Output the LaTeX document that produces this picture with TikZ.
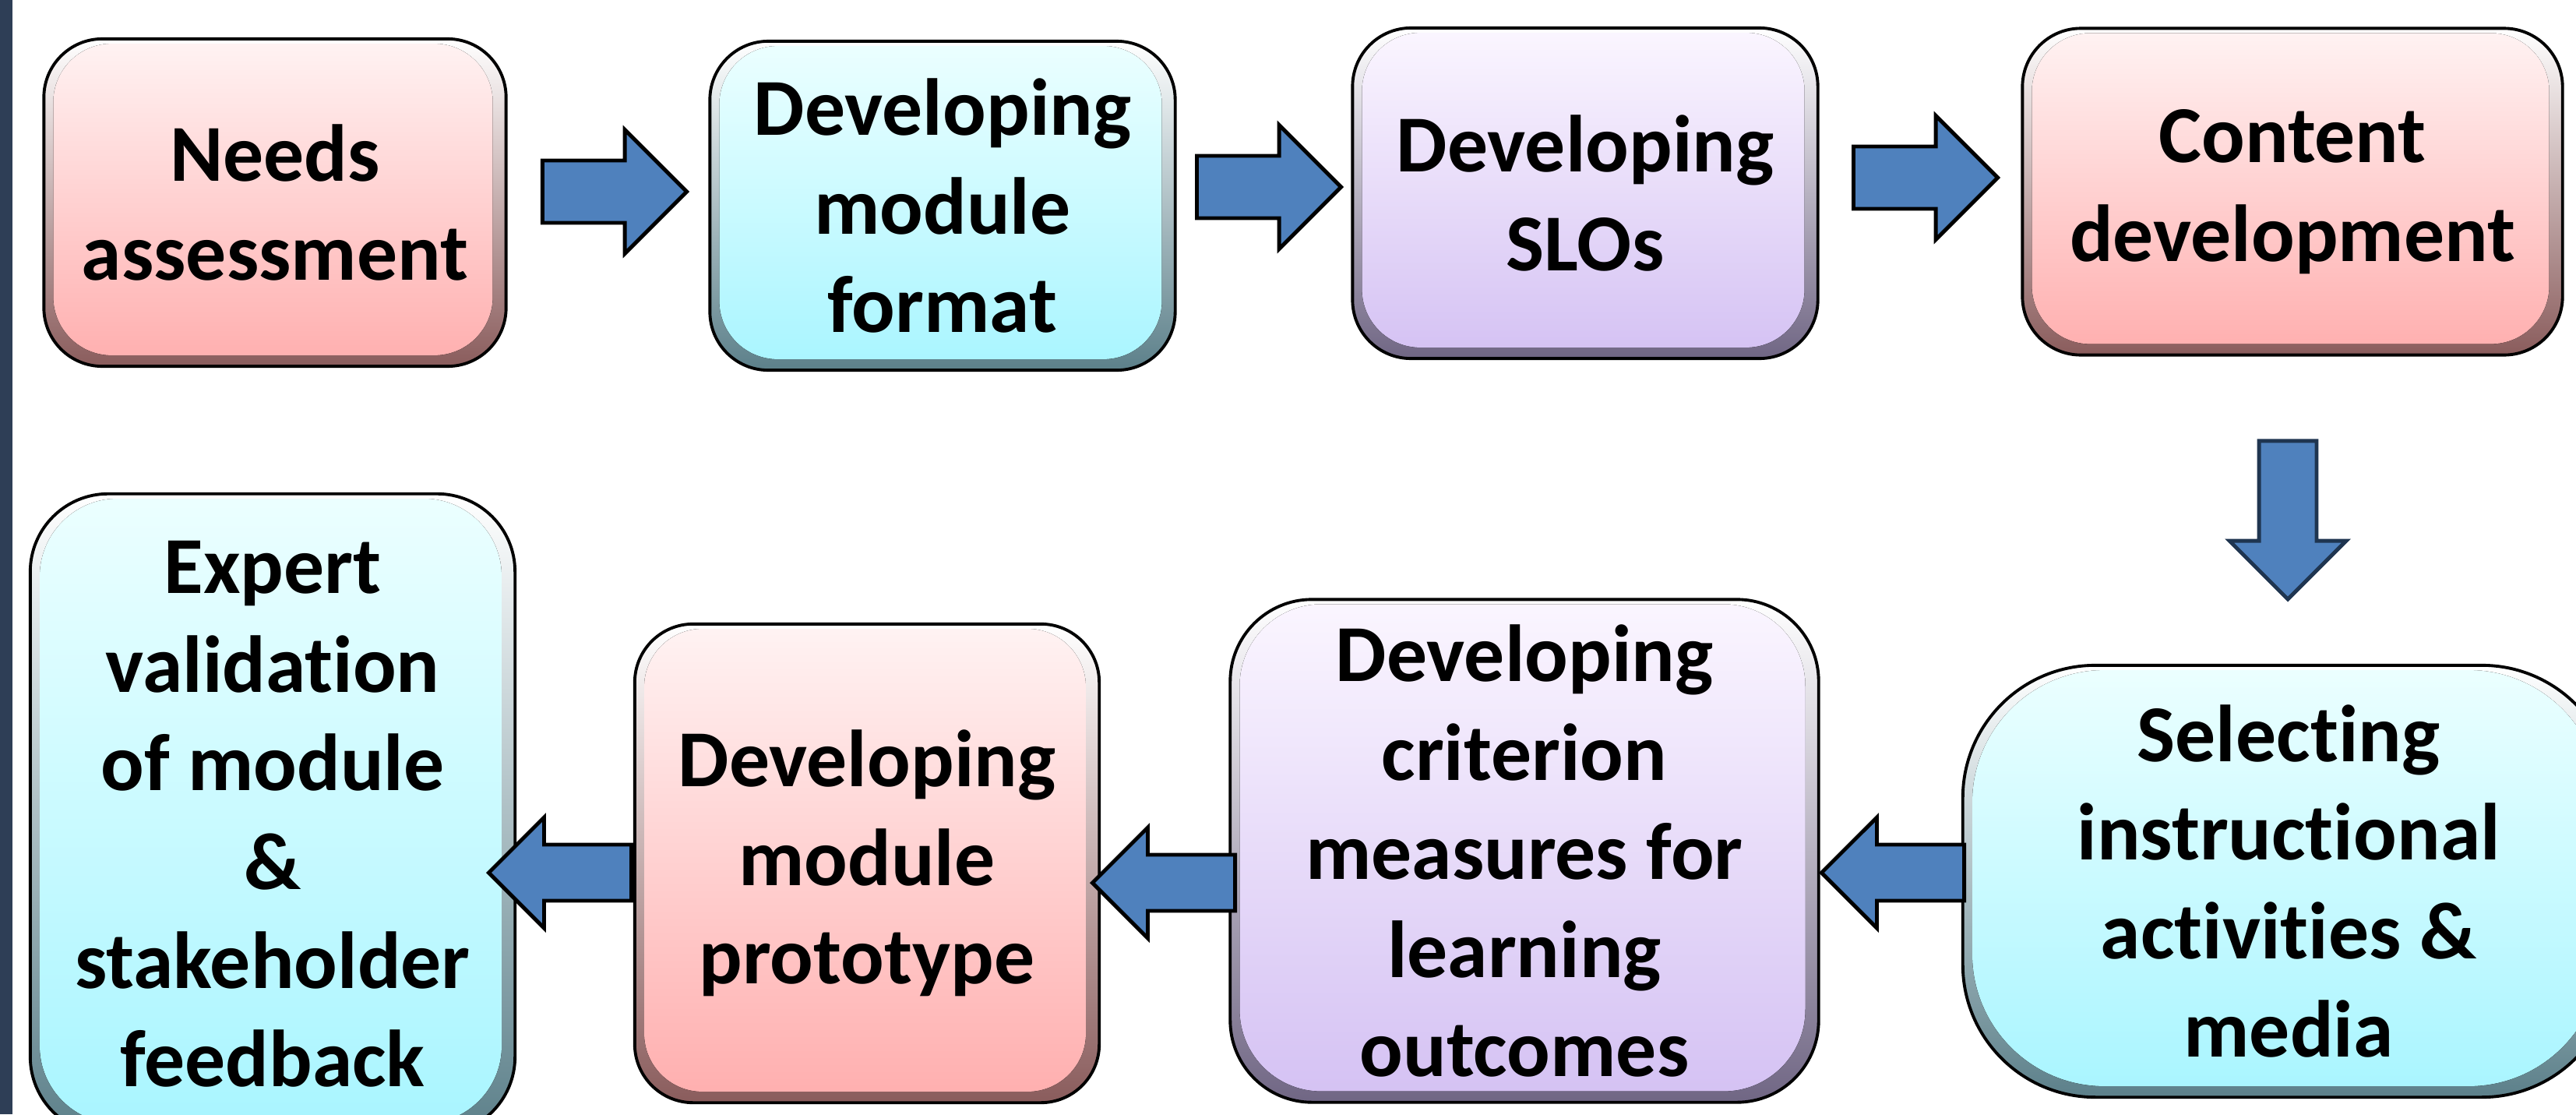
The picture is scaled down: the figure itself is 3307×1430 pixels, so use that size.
\documentclass[tikz,border=0pt]{standalone}
\usepackage{fontspec}
\setmainfont{Carlito}[Ligatures={NoCommon,NoContextual}]
\usetikzlibrary{shapes.arrows}

\definecolor{pinktop}{RGB}{255,243,243}
\definecolor{pinkbot}{RGB}{255,174,174}
\definecolor{pinkedge}{RGB}{138,92,92}
\definecolor{cyantop}{RGB}{236,255,255}
\definecolor{cyanbot}{RGB}{168,245,255}
\definecolor{cyanedge}{RGB}{92,128,138}
\definecolor{purptop}{RGB}{251,246,255}
\definecolor{purpbot}{RGB}{212,193,243}
\definecolor{purpedge}{RGB}{112,102,132}
\definecolor{arrowblue}{RGB}{79,129,189}
\definecolor{navyline}{RGB}{31,53,80}
\definecolor{sidebar}{RGB}{46,62,86}

\def\bevr{0.75cm}

\begin{document}
\begin{tikzpicture}[
    x=0.01cm, y=-0.01cm,
    box/.style={draw=black, line width=1.1pt, align=center, inner sep=0pt,
                font=\bfseries\fontsize{29.5}{36}\selectfont},
    rad/.style={rounded corners=#1, /utils/exec={\def\bevr{#1}}},
    bevel/.style={path picture={
        \fill[top color=white, bottom color=#1, even odd rule, rounded corners=\bevr]
          (path picture bounding box.south west) rectangle (path picture bounding box.north east)
          ([shift={(0.12cm,0.14cm)}]path picture bounding box.south west) rectangle
          ([shift={(-0.17cm,-0.06cm)}]path picture bounding box.north east);}},
    pinkbox/.style={box, top color=pinktop, bottom color=pinkbot, bevel=pinkedge},
    cyanbox/.style={box, top color=cyantop, bottom color=cyanbot, bevel=cyanedge},
    purpbox/.style={box, top color=purptop, bottom color=purpbot, bevel=purpedge},
    blockarrow/.style={single arrow, draw=black, line width=1.4pt, fill=arrowblue,
                       inner xsep=0pt, single arrow head indent=0pt,
                       single arrow tip angle=90},
    rightarrow/.style={blockarrow, minimum height=1.85cm, minimum width=1.54cm,
                       inner ysep=0.375cm, single arrow head extend=0.395cm},
    leftarrow/.style={blockarrow, minimum height=1.83cm, minimum width=1.37cm,
                      inner ysep=0.335cm, single arrow head extend=0.35cm,
                      shape border rotate=180},
    downarrow/.style={blockarrow, draw=navyline, minimum height=2.03cm,
                      minimum width=1.45cm, inner xsep=0.345cm, inner ysep=0pt,
                      single arrow head extend=0.38cm, shape border rotate=270}
  ]
  \useasboundingbox (0,0) rectangle (3307,1430);
  \clip (0,0) rectangle (3307,1430);
  \fill[white] (0,0) rectangle (3307,1430);
  \fill[sidebar] (0,0) rectangle (16,1430);

  % first row
  \node[pinkbox, rad=0.75cm, minimum width=5.93cm, minimum height=4.20cm]
    (needs) at (353,260) {Needs\\assessment};
  \node[cyanbox, rad=0.75cm, minimum width=5.97cm, minimum height=4.22cm]
    (format) at (1210,264) {Developing\\module\\format};
  \node[purpbox, rad=0.75cm, minimum width=5.97cm, minimum height=4.24cm]
    (slos) at (2035,248) {Developing\\SLOs};
  \node[pinkbox, rad=0.75cm, minimum width=6.93cm, minimum height=4.19cm]
    (content) at (2943,246) {Content\\development};

  % second row
  \node[cyanbox, rad=1.7cm, minimum width=8.36cm, minimum height=5.54cm]
    (media) at (2938,1131) {Selecting\\instructional\\activities \&\\media};
  \node[purpbox, rad=1.05cm, minimum width=7.55cm, minimum height=6.45cm]
    (criterion) at (1957,1092) {Developing\\criterion\\measures for\\learning\\outcomes};
  \node[pinkbox, rad=0.75cm, minimum width=5.96cm, minimum height=6.14cm]
    (prototype) at (1113,1108) {Developing\\module\\prototype};
  \node[cyanbox, rad=1.0cm, minimum width=6.22cm, minimum height=8.22cm]
    (expert) at (350,1045) {Expert\\validation\\of module\\\&\\stakeholder\\feedback};

  % block arrows between the steps
  \node[rightarrow] (arr1) at (769,246) {};
  \node[rightarrow] (arr2) at (1609,240) {};
  \node[rightarrow] (arr3) at (2452,228) {};
  \node[downarrow] (arr4) at (2937,649) {};
  \node[leftarrow] (arr5) at (2448,1120) {};
  \node[leftarrow] (arr6) at (1512,1133) {};
  \node[leftarrow] (arr7) at (737,1120) {};
\end{tikzpicture}
\end{document}
